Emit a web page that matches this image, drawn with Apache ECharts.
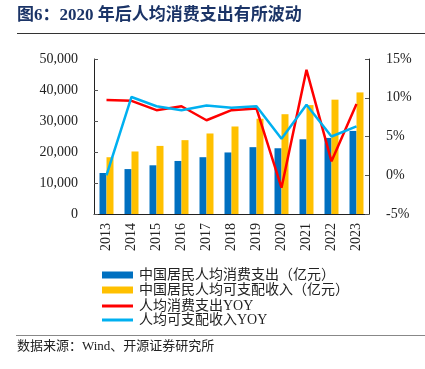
<!DOCTYPE html>
<html><head><meta charset="utf-8">
<script src="https://cdn.jsdelivr.net/npm/echarts@6/dist/echarts.min.js"></script>
<style>html,body{margin:0;padding:0;background:#fff}#c{width:425px;height:369px}</style>
</head><body><div id="c"></div>
<script>
var years = ['2013','2014','2015','2016','2017','2018','2019','2020','2021','2022','2023'];
var consumption = [13220,14491,15712,17111,18322,19853,21559,21210,24100,24538,26796];
var income = [18311,20167,21966,23821,25974,28228,30733,32189,35128,36883,39218];
var consumptionYoy = [9.7,9.6,8.4,8.9,7.1,8.4,8.6,-1.6,13.6,1.8,9.2];
var incomeYoy = [0.0,10.1,8.9,8.4,9.0,8.7,8.9,4.7,9.1,5.0,6.3];
var names = ['中国居民人均消费支出（亿元）','中国居民人均可支配收入（亿元）','人均消费支出YOY','人均可支配收入YOY'];
var colors = ['#0070C0','#FFC000','#FF0000','#00B0F0'];
var serif = 'Liberation Serif, "Noto Sans CJK SC", serif';
var chart = echarts.init(document.getElementById('c'));
function leg(i, top, h){
  return {data:[names[i]], left:102, top:top, itemWidth:31, itemHeight:h, icon:'rect', itemGap:0,
    textStyle:{fontFamily:serif, fontSize:14, color:'#222', padding:[0,0,0,1]}, padding:0, selectedMode:false};
}
chart.setOption({
  animation:false,
  title:{text:'图6：2020 年后人均消费支出有所波动', left:17, top:7, padding:0,
    textStyle:{fontFamily:serif, fontSize:17, fontWeight:'bold', color:'#1B3467'}},
  graphic:[
    {type:'line', shape:{x1:17,y1:33.5,x2:425,y2:33.5}, style:{stroke:'#333', lineWidth:1}},
    {type:'line', shape:{x1:16,y1:335.5,x2:425,y2:335.5}, style:{stroke:'#888', lineWidth:1}},
    {type:'text', left:17, top:340, style:{text:'数据来源：Wind、开源证券研究所', font:'13px '+serif, fill:'#222'}}
  ],
  legend:[leg(0,268,7), leg(1,283,7), leg(2,299,3), leg(3,313,3)],
  grid:{left:94, right:56, top:59, bottom:155},
  xAxis:{type:'category', data:years,
    axisLine:{lineStyle:{color:'#222'}},
    axisTick:{inside:true, length:4, lineStyle:{color:'#555'}},
    axisLabel:{rotate:90, fontFamily:serif, fontSize:14, color:'#222', margin:9}},
  yAxis:[
    {type:'value', min:0, max:50000, interval:10000, splitLine:{show:false},
     axisLine:{show:true, lineStyle:{color:'#222'}},
     axisTick:{show:true, inside:true, length:4, lineStyle:{color:'#555'}},
     axisLabel:{fontFamily:serif, fontSize:14, color:'#222', margin:16,
       formatter:function(v){return v.toLocaleString('en-US');}}},
    {type:'value', min:-5, max:15, interval:5, splitLine:{show:false},
     axisLine:{show:true, lineStyle:{color:'#222'}},
     axisTick:{show:true, inside:true, length:4, lineStyle:{color:'#555'}},
     axisLabel:{fontFamily:serif, fontSize:14, color:'#222', margin:17, formatter:'{value}%'}}
  ],
  series:[
    {name:names[0], type:'bar', data:consumption, barWidth:7, barGap:'0%', itemStyle:{color:colors[0]}},
    {name:names[1], type:'bar', data:income, barWidth:7, barGap:'0%', itemStyle:{color:colors[1]}},
    {name:names[2], type:'line', yAxisIndex:1, data:consumptionYoy, symbol:'none', lineStyle:{color:colors[2], width:2.5}, itemStyle:{color:colors[2]}},
    {name:names[3], type:'line', yAxisIndex:1, data:incomeYoy, symbol:'none', lineStyle:{color:colors[3], width:2.5}, itemStyle:{color:colors[3]}}
  ]
});
</script></body></html>
